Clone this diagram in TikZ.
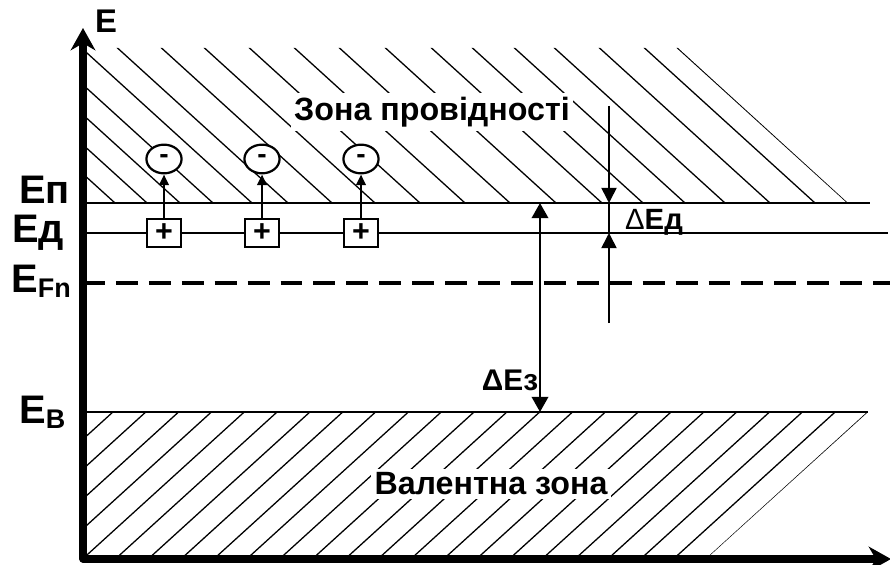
\documentclass[tikz,border=0pt]{standalone}
\usepackage{fontspec}
\setmainfont{Liberation Sans}
\usetikzlibrary{arrows.meta,shapes.geometric}
\begin{document}
\begin{tikzpicture}[x=0.03cm,y=-0.03cm,
  hatch/.style={line width=1.1pt},
  level/.style={line width=2pt},
  axis/.style={line width=6pt, line join=round,
    {Stealth[width=21pt,length=19pt,inset=6pt]}-{Stealth[width=21pt,length=19pt,inset=6pt]}},
  zone/.style={font=\bfseries\fontsize{27.5}{32}\selectfont, fill=white, inner sep=3pt},
  lbl/.style={font=\bfseries\fontsize{34}{40}\selectfont, inner sep=0pt},
  donor/.style={draw, line width=1.8pt, fill=white, minimum width=29.5pt, minimum height=24.5pt,
    inner sep=0pt, font=\bfseries\fontsize{26}{26}\selectfont},
  elec/.style={ellipse, draw, line width=1.9pt, fill=white, minimum width=30pt, minimum height=24.5pt,
    inner sep=0pt, font=\bfseries\fontsize{24}{24}\selectfont},
  darrow/.style={line width=2.2pt, -{Triangle[width=8pt,length=9pt]}},
  gap/.style={line width=2.3pt, {Triangle[width=14pt,length=13pt]}-{Triangle[width=14pt,length=13pt]}},
  thin/.style={line width=1.4pt},
  thinarrow/.style={line width=1.4pt, -{Triangle[width=13pt,length=13pt]}}
]
\useasboundingbox (0,0) rectangle (890,565);

% conduction band hatching
\begin{scope}
  \clip (83,48) -- (678,48) -- (848,203) -- (83,203) -- cycle;
  \foreach \xb in {115,147,180,213,252,288,332,375,420,465,510,556,602,643,685,725,770,815,848}
    \draw[hatch] (\xb,203) -- ({\xb-220},3);
\end{scope}

% valence band hatching
\begin{scope}
  \clip (83,412) -- (868,412) -- (706,559) -- (83,559) -- cycle;
  \foreach \k in {0,...,23}
    \draw[hatch] ({868-32.83*\k},412) -- ({868-32.83*\k-220},612);
\end{scope}

% energy levels
\coordinate (EpL) at (83,203);  \coordinate (EpR) at (870,203);
\coordinate (EdL) at (83,233);  \coordinate (EdR) at (888,233);
\coordinate (EfL) at (83,283);  \coordinate (EfR) at (890,283);
\coordinate (EbL) at (83,412);  \coordinate (EbR) at (868,412);
\draw[level] (EpL) -- (EpR);
\draw[level] (EdL) -- (EdR);
\draw[line width=3pt, dash pattern=on 18.7pt off 9.4pt] (EfL) -- (EfR);
\draw[level] (EbL) -- (EbR);

% axes
\coordinate (Etop) at (83,28);
\coordinate (O) at (83,559);
\coordinate (Xend) at (891,559);
\draw[axis] (Etop) -- (O) -- (Xend);

% zone labels
\node[zone] (cz) at (432,112) {Зона провідності};
\node[zone] (vz) at (491,484) {Валентна зона};

% axis / level labels
\node[font=\bfseries\fontsize{28}{30}\selectfont, inner sep=0pt, anchor=base west] (Elab) at (95,33) {E};
\node[lbl, anchor=base west] (Ep) at (19,203) {Eп};
\node[lbl, anchor=base west] (Ed) at (12,243) {Eд};
\node[lbl, anchor=base west] (Ef) at (11,292) {E\raisebox{-4.3pt}{\fontsize{23}{24}\selectfont Fn}};
\node[lbl, anchor=base west] (Eb) at (19,423) {E\raisebox{-4.3pt}{\fontsize{23}{24}\selectfont В}};

% donors and electrons
\foreach \i/\x in {1/164,2/262,3/361} {
  \node[donor] (d\i) at (\x,233) {+};
  \node[elec] (e\i) at (\x,159) {-};
  \draw[darrow] (d\i.north) -- (e\i.south);
}

% band gap arrow
\coordinate (g1) at (540,203);
\coordinate (g2) at (540,412);
\draw[gap] (g1) -- (g2);
\node[font=\bfseries\fontsize{25.5}{28}\selectfont, inner sep=0pt] (dEz) at (510,380) {ΔEз};

% donor ionisation energy arrows
\coordinate (a1) at (609,106);
\coordinate (a2) at (609,203);
\coordinate (a3) at (609,233);
\coordinate (a4) at (609,323);
\draw[thinarrow] (a1) -- (a2);
\draw[thin] (a2) -- (a3);
\draw[thinarrow] (a4) -- (a3);
\node[font=\fontsize{25}{28}\selectfont, inner sep=0pt] (dEd) at (654,222) {Δ\textbf{Eд}};
\end{tikzpicture}
\end{document}
